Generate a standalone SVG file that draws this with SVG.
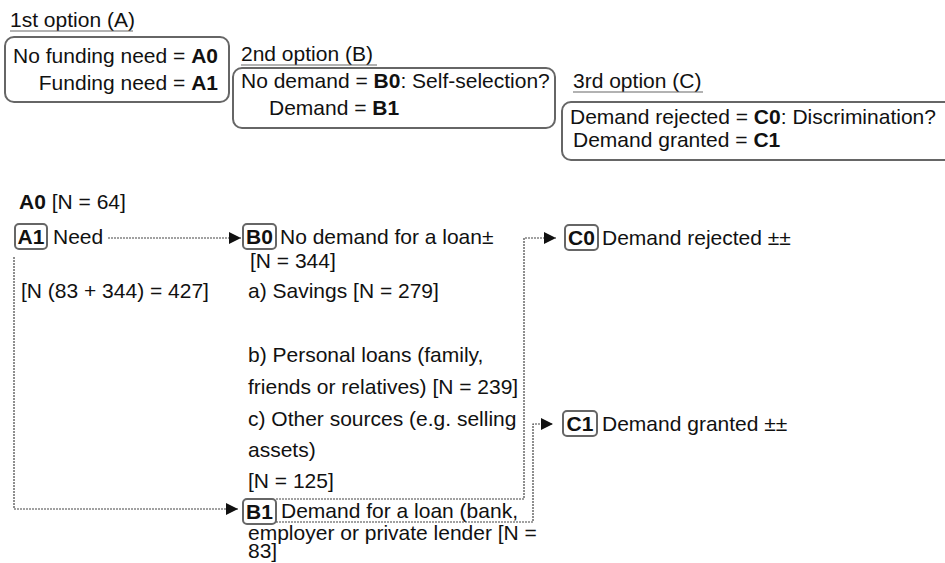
<svg xmlns="http://www.w3.org/2000/svg" width="945" height="563" viewBox="0 0 945 563">
<style>
text{font-family:"Liberation Sans",Arial,sans-serif;font-size:21px;fill:#111}
.b{font-weight:bold}
.box{fill:none;stroke:#666;stroke-width:2}
.badge{fill:none;stroke:#666;stroke-width:2}
.ul{stroke:#666;stroke-width:1.2}
.con{fill:none;stroke:#444;stroke-width:1.2;stroke-dasharray:2 1}
</style>
<defs>
<marker id="ah" markerUnits="userSpaceOnUse" markerWidth="14" markerHeight="12" refX="12" refY="6" orient="auto">
<path d="M0,0 L12,6 L0,12 Z" fill="#111"/>
</marker>
</defs>
<g id="legendA">
<text x="10" y="27">1st option (A)</text>
<line class="ul" x1="10" y1="31" x2="133" y2="31"/>
<rect class="box" x="5" y="37" width="224" height="65" rx="9"/>
<text x="218" y="63" text-anchor="end">No funding need = <tspan class="b">A0</tspan></text>
<text x="218" y="90" text-anchor="end">Funding need = <tspan class="b">A1</tspan></text>
</g>
<g id="legendB">
<text x="241" y="61">2nd option (B)</text>
<line class="ul" x1="241" y1="65" x2="377" y2="65"/>
<rect class="box" x="233" y="68" width="322" height="60" rx="9"/>
<text x="241" y="88">No demand = <tspan class="b">B0</tspan>: Self-selection?</text>
<text x="269" y="115">Demand = <tspan class="b">B1</tspan></text>
</g>
<g id="legendC">
<text x="573" y="88">3rd option (C)</text>
<line class="ul" x1="573" y1="92" x2="703" y2="92"/>
<rect class="box" x="562" y="102" width="400" height="58" rx="9"/>
<text x="570" y="124">Demand rejected = <tspan class="b">C0</tspan>: Discrimination?</text>
<text x="573" y="147">Demand granted = <tspan class="b">C1</tspan></text>
</g>
<g id="A0">
<text x="19" y="209"><tspan class="b">A0</tspan> [N = 64]</text>
</g>
<g id="A1">
<rect class="badge" x="15" y="224" width="32" height="25" rx="4"/>
<text class="b" x="31" y="244" text-anchor="middle">A1</text>
<text x="53" y="244">Need</text>
<text x="21" y="298">[N (83 + 344) = 427]</text>
</g>
<g id="B0">
<rect class="badge" x="243" y="224" width="33" height="25" rx="4"/>
<text class="b" x="259.5" y="244" text-anchor="middle">B0</text>
<text x="280" y="244">No demand for a loan±</text>
<text x="250" y="268">[N = 344]</text>
<text x="248" y="298">a) Savings [N = 279]</text>
<text x="248" y="362">b) Personal loans (family,</text>
<text x="248" y="394">friends or relatives) [N = 239]</text>
<text x="248" y="426">c) Other sources (e.g. selling</text>
<text x="248" y="457">assets)</text>
<text x="248" y="488">[N = 125]</text>
</g>
<g id="B1">
<rect class="badge" x="243" y="499" width="33" height="25" rx="4"/>
<text class="b" x="259.5" y="519" text-anchor="middle">B1</text>
<text x="281" y="518">Demand for a loan (bank,</text>
<text x="248" y="540">employer or private lender [N =</text>
<text x="248" y="558">83]</text>
</g>
<g id="C0">
<rect class="badge" x="565" y="225" width="33" height="25" rx="4"/>
<text class="b" x="581.5" y="245" text-anchor="middle">C0</text>
<text x="602" y="245">Demand rejected ±±</text>
</g>
<g id="C1">
<rect class="badge" x="563" y="411" width="34" height="25" rx="4"/>
<text class="b" x="580" y="431" text-anchor="middle">C1</text>
<text x="602" y="431">Demand granted ±±</text>
</g>
<g id="connectors">
<path class="con" d="M108,238 H241" marker-end="url(#ah)"/>
<path class="con" d="M14,257 V509 H238" marker-end="url(#ah)"/>
<path class="con" d="M276,499 H524 V238 H556" marker-end="url(#ah)"/>
<path class="con" d="M276,522 H533 V424 H553" marker-end="url(#ah)"/>
</g>
</svg>
